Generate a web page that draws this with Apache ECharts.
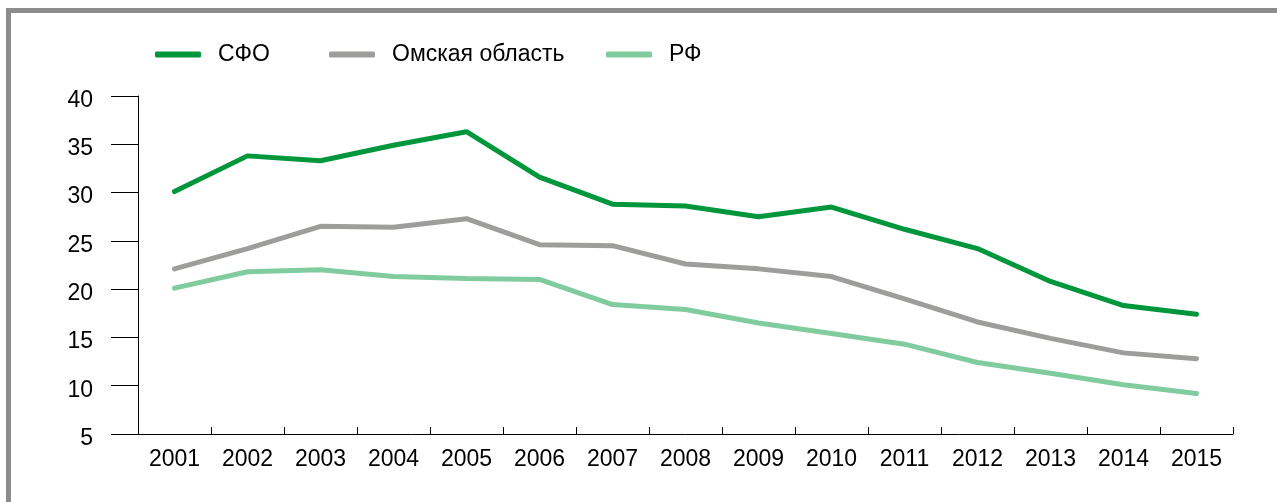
<!DOCTYPE html>
<html>
<head>
<meta charset="utf-8">
<style>
  html, body { margin: 0; padding: 0; background: #fff; }
  #chart { width: 1277px; height: 502px; }
</style>
<script src="https://cdn.jsdelivr.net/npm/echarts@6/dist/echarts.min.js"></script>
</head>
<body>
<div id="chart"></div>
<script>
var years = ['2001', '2002', '2003', '2004', '2005', '2006', '2007', '2008',
  '2009', '2010', '2011', '2012', '2013', '2014', '2015'];
var sfo = [30.1, 33.8, 33.3, 34.9, 36.3, 31.6, 28.8, 28.6, 27.5, 28.5, 26.2, 24.2, 20.8, 18.3, 17.4];
var omsk = [22.1, 24.2, 26.5, 26.4, 27.3, 24.6, 24.5, 22.6, 22.1, 21.3, 19.0, 16.6, 14.9, 13.4, 12.8];
var rf = [20.1, 21.8, 22.0, 21.3, 21.1, 21.0, 18.4, 17.9, 16.5, 15.4, 14.3, 12.4, 11.3, 10.1, 9.2];

var myChart = echarts.init(document.getElementById('chart'));
var font = 'Liberation Sans, Arial, sans-serif';

function line(name, data, color) {
  return {
    name: name,
    type: 'line',
    data: data,
    symbol: 'none',
    color: color,
    lineStyle: { width: 5, color: color, cap: 'round' },
    emphasis: { disabled: true }
  };
}

// у каждой подписи легенды своё место, поэтому три легенды
function legend(name, left) {
  return {
    left: left,
    top: 38,
    icon: 'roundRect',
    itemWidth: 46,
    itemHeight: 6,
    textStyle: { fontFamily: font, fontSize: 23, color: '#000', padding: [0, 0, 0, 12] },
    data: [name]
  };
}

var option = {
  animation: false,
  graphic: [
    // серая рамка сверху и слева
    { type: 'rect', shape: { x: 6, y: 8, width: 1271, height: 5 }, style: { fill: '#8c8c8c' } },
    { type: 'rect', shape: { x: 6, y: 8, width: 5, height: 494 }, style: { fill: '#8c8c8c' } }
  ],
  legend: [
    legend('СФО', 150),
    legend('Омская область', 324),
    legend('РФ', 601)
  ],
  grid: {
    left: 138,
    right: 44,
    top: 96,
    bottom: 68
  },
  xAxis: {
    type: 'category',
    data: years,
    boundaryGap: true,
    axisLine: { lineStyle: { color: '#000', width: 1 } },
    axisTick: { show: true, inside: true, length: 7, lineStyle: { color: '#000' } },
    axisLabel: { fontFamily: font, fontSize: 23, color: '#000', margin: 14 }
  },
  yAxis: {
    type: 'value',
    min: 5,
    max: 40,
    interval: 5,
    axisLine: { show: true, lineStyle: { color: '#000', width: 1 } },
    axisTick: { show: true, length: 27, lineStyle: { color: '#000' } },
    splitLine: { show: false },
    axisLabel: {
      margin: 45,
      formatter: '{v|{value}}',
      rich: { v: { fontFamily: font, fontSize: 23, color: '#000', padding: [9, 0, 0, 0] } }
    }
  },
  series: [
    line('СФО', sfo, '#00963c'),
    line('Омская область', omsk, '#9d9d9c'),
    line('РФ', rf, '#80cc9f')
  ]
};

option && myChart.setOption(option);
</script>
</body>
</html>
